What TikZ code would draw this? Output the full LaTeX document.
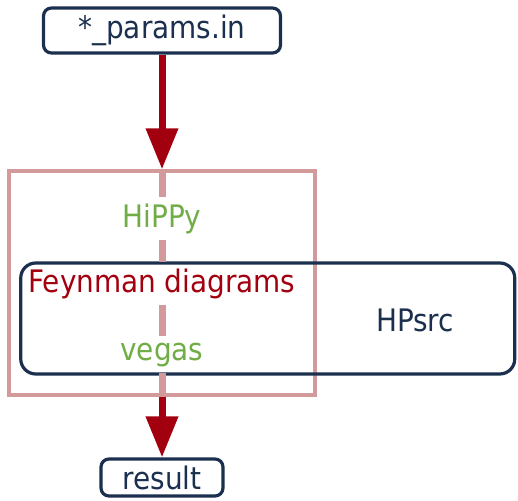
\documentclass[tikz,border=0pt]{standalone}
\usepackage{fontspec}
\setmainfont{DejaVu Sans Condensed}
\usetikzlibrary{positioning, arrows.meta}

\definecolor{navy}{HTML}{1B2F4F}
\definecolor{darkred}{HTML}{A3000F}
\definecolor{leafgreen}{HTML}{70AD47}
\definecolor{rose}{HTML}{D29A9A}

\begin{document}
\begin{tikzpicture}[
        x=1pt, y=-1pt,
        font=\fontsize{31}{35}\selectfont,
        file/.style={rectangle, draw=navy, line width=3.2pt, rounded corners=8pt, text=navy, inner sep=0pt},
        label/.style={inner sep=6pt, anchor=base},
        flow/.style={-{Triangle[length=41pt, width=31pt]}, draw=darkred, line width=7pt},
        faded/.style={draw=rose, line width=7pt}
      ]
        \useasboundingbox (0,0) rectangle (518,500);

        % Files
        \node[file, minimum width=237pt, minimum height=45pt] (params) at (162,30.5) {*\_params.in};
        \node[file, minimum width=122pt, minimum height=37pt] (result) at (162,477.5) {result};

        % Frame and HPsrc
        \node[rectangle, draw=rose, line width=3.4pt, minimum width=306pt, minimum height=224pt] (frame) at (162,283) {};
        \node[rectangle, draw=navy, line width=3.2pt, rounded corners=15pt, minimum width=494pt, minimum height=111pt] (hpsrcbox) at (267.75,318.5) {};

        % Labels
        \node[label, text=leafgreen] (hippy) at (162,227) {HiPPy};
        \node[label, text=darkred] (feynman) at (162,292) {Feynman diagrams};
        \node[label, text=leafgreen] (vegas) at (162,360) {vegas};
        \node[label, text=navy] (hpsrc) at (415,331) {HPsrc};

        % Arrows
        \draw[faded] (frame.north) -- (hippy);
        \draw[faded] (hippy) -- (feynman);
        \draw[faded] (feynman) -- (vegas);
        \draw[faded] (vegas) -- (frame.south);
        \draw[flow] (params) -- (frame.north);
        \draw[flow] (frame.south) -- (result);

      \end{tikzpicture}
\end{document}
